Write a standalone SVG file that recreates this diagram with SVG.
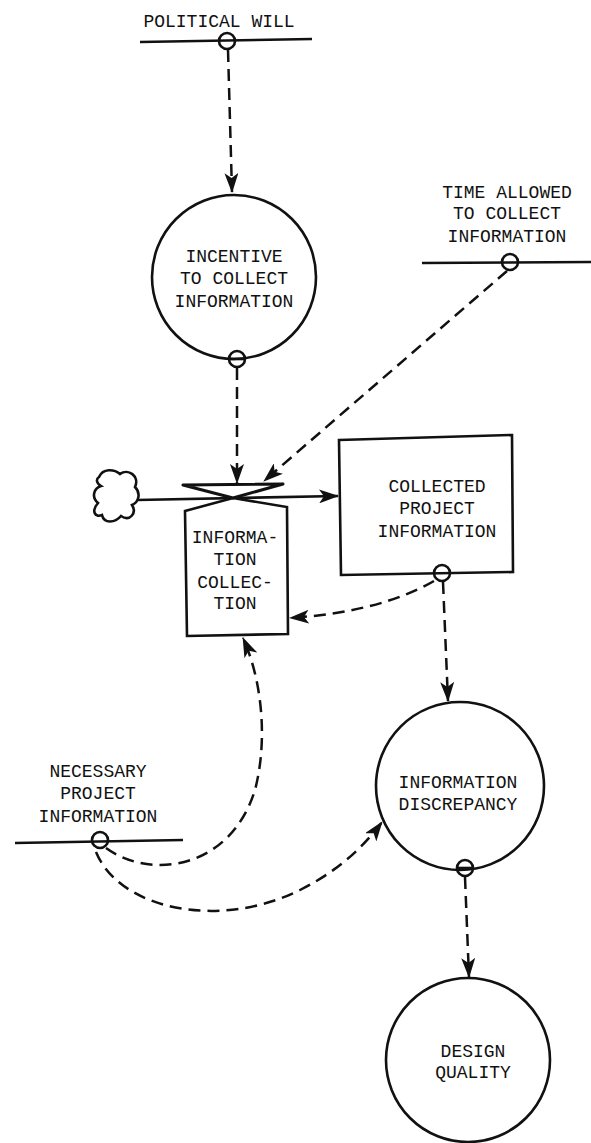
<svg xmlns="http://www.w3.org/2000/svg" width="591" height="1143" viewBox="0 0 591 1143">
<style>
text{font-family:"Liberation Mono","Courier New",monospace;font-size:18px;fill:#111;text-anchor:middle}
.s{fill:none;stroke:#111;stroke-width:2.6}
.n{fill:#fff;stroke:#111;stroke-width:2.6}
.d{fill:none;stroke:#111;stroke-width:2.5;stroke-dasharray:12 7}
.o{fill:none;stroke:#111;stroke-width:2.6}
</style>
<defs>
<marker id="a" markerUnits="userSpaceOnUse" markerWidth="22" markerHeight="14" refX="19" refY="7" orient="auto"><path d="M0,0 L20,7 L0,14 L5,7 Z" fill="#111"/></marker>
</defs>
<rect width="591" height="1143" fill="#fff"/>
<g id="connectors">
<path class="s" d="M137,500 L338,496" marker-end="url(#a)"/>
<path class="d" d="M228,50 L232,192" marker-end="url(#a)"/>
<path class="d" d="M237,368 L237,483" marker-end="url(#a)"/>
<path class="d" d="M507,271 Q390,372 264,481" marker-end="url(#a)"/>
<path class="d" d="M434,581 Q380,612 290,618" marker-end="url(#a)"/>
<path class="d" d="M443,582 L448,701" marker-end="url(#a)"/>
<path class="d" d="M106,848 C150,880 230,870 255,790 C268,740 262,680 243,638" marker-end="url(#a)"/>
<path class="d" d="M96,852 C120,910 220,930 300,890 C340,870 365,845 382,822" marker-end="url(#a)"/>
<path class="d" d="M465,877 L469,977" marker-end="url(#a)"/>
</g>
<g id="political-will">
<path class="s" d="M140,42 L312,39"/>
<circle class="o" cx="227" cy="41" r="8"/>
<text x="219" y="27">POLITICAL WILL</text>
</g>
<g id="time-allowed">
<path class="s" d="M422,263 L591,262"/>
<circle class="o" cx="510" cy="262" r="8"/>
<text x="507" y="198">TIME ALLOWED</text>
<text x="507" y="219">TO COLLECT</text>
<text x="507" y="242">INFORMATION</text>
</g>
<g id="incentive">
<circle class="n" cx="234" cy="277" r="82"/>
<circle class="o" cx="237" cy="359" r="8"/>
<path class="s" d="M229,359 L245,359"/>
<text x="234" y="262">INCENTIVE</text>
<text x="234" y="284">TO COLLECT</text>
<text x="234" y="307">INFORMATION</text>
</g>
<g id="cloud">
<path class="n" d="M99,477 C103,468 114,469 120,474 C128,468 140,476 135,487 C141,493 139,502 132,505 C137,513 130,522 121,516 C115,523 104,524 102,515 C95,518 91,511 98,503 C91,497 94,488 101,486 C96,483 96,479 99,477 Z"/>
</g>
<g id="information-collection">
<path class="n" d="M185,511 L233,498 L287,507 L288,634 L187,636 Z"/>
<path fill="#fff" stroke="#111" stroke-width="3" stroke-linejoin="round" d="M183,485 L283,484 L233,498 Z"/>
<text x="235" y="543">INFORMA-</text>
<text x="235" y="565">TION</text>
<text x="235" y="588">COLLEC-</text>
<text x="235" y="609">TION</text>
</g>
<g id="collected-project-information">
<path class="n" stroke-width="3" d="M339,440 L512,435 L513,572 L341,575 Z"/>
<circle class="o" cx="442" cy="573" r="8"/>
<text x="437" y="492">COLLECTED</text>
<text x="437" y="514">PROJECT</text>
<text x="437" y="537">INFORMATION</text>
</g>
<g id="necessary-project-information">
<path class="s" d="M15,843 L183,840"/>
<circle class="o" cx="100" cy="840" r="8"/>
<text x="98" y="777">NECESSARY</text>
<text x="98" y="799">PROJECT</text>
<text x="98" y="822">INFORMATION</text>
</g>
<g id="information-discrepancy">
<circle class="n" cx="460" cy="786" r="84"/>
<circle class="o" cx="465" cy="868" r="8"/>
<path class="s" d="M457,868 L473,868"/>
<text x="458" y="788">INFORMATION</text>
<text x="458" y="810">DISCREPANCY</text>
</g>
<g id="design-quality">
<circle class="n" cx="468" cy="1060" r="82"/>
<text x="473" y="1057">DESIGN</text>
<text x="473" y="1078">QUALITY</text>
</g>
</svg>
